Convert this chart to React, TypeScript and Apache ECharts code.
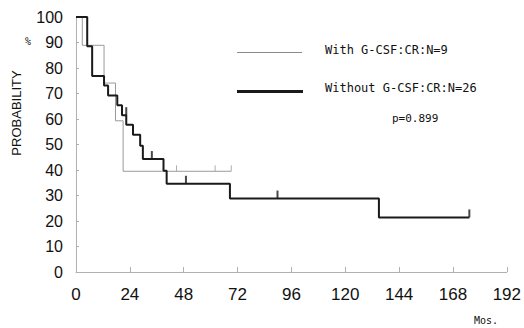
import React, { useEffect, useRef } from "react";
import * as echarts from "echarts";

const withMonths = [0, 2.8, 12.5, 17.6, 21, 69.2];
const withValues = [100, 88.9, 74.1, 59.3, 39.5, 39.5];
const withCensorMonths = [44.8, 62, 69.2];
const withCensorValues = [39.5, 39.5, 39.5];

const withoutMonths = [0, 5, 7.2, 12.5, 14.3, 18.4, 20.5, 22.4, 25.4, 28.6, 29.8, 39, 40.4, 68.6, 135, 175.3];
const withoutValues = [100, 88.5, 76.9, 73.1, 69.2, 65.4, 61.5, 57.7, 53.8, 49.5, 44.3, 39.7, 34.6, 28.8, 21.4, 21.4];
const withoutCensorMonths = [22.4, 33.8, 49, 89.8, 175.3];
const withoutCensorValues = [61.5, 44.3, 34.6, 28.8, 21.4];

const xTicks = [0, 24, 48, 72, 96, 120, 144, 168, 192];
const yTicks = [0, 10, 20, 30, 40, 50, 60, 70, 80, 90, 100];

const legendWith = "With G-CSF:CR:N=9";
const legendWithout = "Without G-CSF:CR:N=26";
const pText = "p=0.899";

export default function App() {
  const ref = useRef<HTMLDivElement>(null);
  useEffect(() => {
    if (!ref.current) return;
    const chart = echarts.init(ref.current, null, { renderer: "svg" });
    const zip = (a: number[], b: number[]) => a.map((v, i) => [v, b[i]]);
    chart.setOption({
      animation: false,
      backgroundColor: "#fff",
      grid: { left: 76, right: 15, top: 17, bottom: 56 },
      xAxis: {
        type: "value",
        min: xTicks[0],
        max: xTicks[xTicks.length - 1],
        interval: 24,
        axisLine: { lineStyle: { color: "#b0b0b0", width: 1 } },
        axisTick: { show: true, inside: true, length: 5, lineStyle: { color: "#b0b0b0" } },
        axisLabel: { color: "#111", fontSize: 17, fontFamily: "Liberation Sans", margin: 14 },
        splitLine: { show: false },
      },
      yAxis: {
        type: "value",
        min: yTicks[0],
        max: yTicks[yTicks.length - 1],
        interval: 10,
        axisLine: { show: true, lineStyle: { color: "#b0b0b0", width: 1 } },
        axisTick: { show: true, inside: true, length: 3, lineStyle: { color: "#b0b0b0" } },
        axisLabel: { color: "#111", fontSize: 16, fontFamily: "Liberation Sans", margin: 13 },
        splitLine: { show: false },
      },
      series: [
        {
          type: "line",
          step: "end",
          data: zip(withMonths, withValues),
          symbol: "none",
          lineStyle: { color: "#9a9a9a", width: 1 },
          z: 2,
        },
        {
          type: "scatter",
          data: zip(withCensorMonths, withCensorValues),
          symbol: "rect",
          symbolSize: [1, 6],
          symbolOffset: [0, -3],
          itemStyle: { color: "#9a9a9a" },
          z: 2,
        },
        {
          type: "line",
          step: "end",
          data: zip(withoutMonths, withoutValues),
          symbol: "none",
          lineStyle: { color: "#1a1a1a", width: 2 },
          z: 3,
        },
        {
          type: "scatter",
          data: zip(withoutCensorMonths, withoutCensorValues),
          symbol: "rect",
          symbolSize: [2, 8],
          symbolOffset: [0, -4],
          itemStyle: { color: "#1a1a1a" },
          z: 3,
        },
      ],
      graphic: [
        {
          type: "text",
          x: 16,
          y: 113,
          rotation: Math.PI / 2,
          style: {
            text: "PROBABILITY",
            fontSize: 13,
            fontFamily: "Liberation Sans",
            fill: "#111",
            align: "center",
            verticalAlign: "middle",
          },
        },
        {
          type: "text",
          x: 28,
          y: 41,
          style: { text: "%", fontSize: 10, fontFamily: "DejaVu Sans Mono", fill: "#111", align: "center", verticalAlign: "middle" },
        },
        {
          type: "text",
          x: 486,
          y: 320,
          style: { text: "Mos.", fontSize: 10, fontFamily: "DejaVu Sans Mono", fill: "#111", align: "center", verticalAlign: "middle" },
        },
        {
          type: "line",
          shape: { x1: 237, y1: 52.5, x2: 302, y2: 52.5 },
          style: { stroke: "#8a8a8a", lineWidth: 1 },
        },
        {
          type: "text",
          x: 325,
          y: 50,
          style: { text: legendWith, fontSize: 12, fontFamily: "DejaVu Sans Mono", fill: "#111", verticalAlign: "middle" },
        },
        {
          type: "line",
          shape: { x1: 237, y1: 91.5, x2: 303, y2: 91.5 },
          style: { stroke: "#1a1a1a", lineWidth: 3 },
        },
        {
          type: "text",
          x: 325,
          y: 88,
          style: { text: legendWithout, fontSize: 12, fontFamily: "DejaVu Sans Mono", fill: "#111", verticalAlign: "middle" },
        },
        {
          type: "text",
          x: 392,
          y: 118,
          style: { text: pText, fontSize: 11, fontFamily: "DejaVu Sans Mono", fill: "#111", verticalAlign: "middle" },
        },
      ],
    });
    return () => chart.dispose();
  }, []);
  return <div ref={ref} style={{ width: 524, height: 328, position: "absolute", left: 0, top: 0 }} />;
}
